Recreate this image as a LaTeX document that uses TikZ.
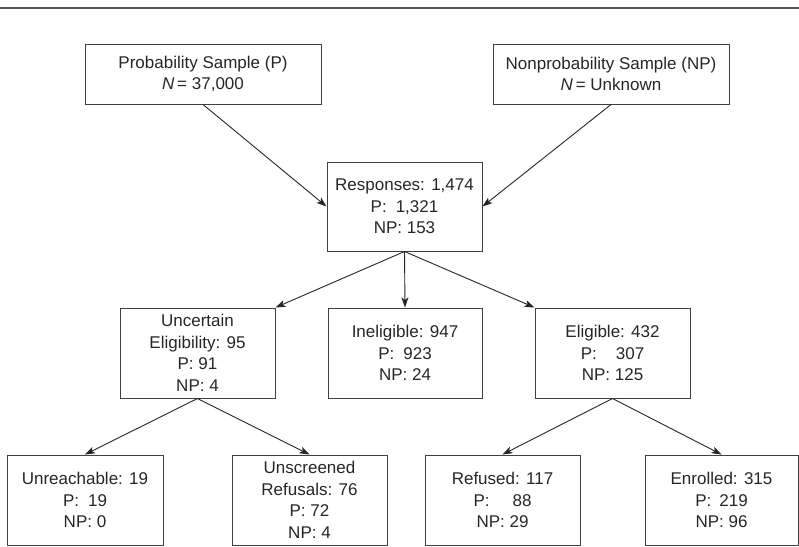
\documentclass[tikz,border=0pt]{standalone}
\usepackage{fontspec}
\setmainfont{Liberation Sans}
\usetikzlibrary{arrows.meta}

\begin{document}
\begin{tikzpicture}[x=1pt, y=-1pt, black!85, align=center,
    box/.style={draw=black!75, line width=1pt, inner sep=0pt,
      minimum width=155pt, minimum height=90pt,
      font=\fontsize{17}{21.5}\selectfont},
    topbox/.style={box, minimum width=236pt, minimum height=60pt},
    flow/.style={draw=black!85, line width=0.9pt,
      -{Stealth[length=10pt, width=7pt, inset=2.5pt]}}]
  \useasboundingbox (0,0) rectangle (799,546);
  \draw[line width=2.2pt, black!65] (0,8) -- (799,8);
  % samples
  \node[topbox] (prob) at (203,74) {Probability Sample (P)\\\textit{N}\,= 37,000};
  \node[topbox] (nonprob) at (611,74) {Nonprobability Sample (NP)\\\textit{N}\,= Unknown};
  \node[box, minimum height=89pt] (resp) at (404.5,206.5) {Responses: 1,474\\P:\hspace{9pt}1,321\\NP: 153};
  % screening
  \node[box] (uncert) at (197.5,353) {Uncertain\\Eligibility: 95\\P: 91\\NP: 4};
  \node[box, minimum width=154pt] (inelig) at (405,353) {Ineligible: 947\\P:\hspace{9pt}923\\NP: 24};
  \node[box] (elig) at (612.5,353) {Eligible: 432\\P:\hspace{19pt}307\\NP: 125};
  % outcomes
  \node[box, minimum width=156pt] (unreach) at (85,500) {Unreachable: 19\\P:\hspace{9pt}19\\NP: 0};
  \node[box] (unscr) at (309.5,500) {Unscreened\\Refusals: 76\\P: 72\\NP: 4};
  \node[box] (refused) at (502.5,500) {Refused: 117\\P:\hspace{23pt}88\\NP: 29};
  \node[box, minimum width=153pt] (enrolled) at (721.5,500) {Enrolled: 315\\P:\hspace{8pt}219\\NP: 96};

  \draw[flow] (prob.south) -- (resp.west);
  \draw[flow] (nonprob.south) -- (resp.east);
  \draw[flow] (resp.south) -- (uncert.north east);
  \draw[flow] (resp.south) -- (inelig.north);
  \draw[flow] (resp.south) -- (elig.north west);
  \draw[flow] (uncert.south) -- (unreach.north);
  \draw[flow] (uncert.south) -- (unscr.north);
  \draw[flow] (elig.south) -- (refused.north);
  \draw[flow] (elig.south) -- (enrolled.north);
\end{tikzpicture}
\end{document}
